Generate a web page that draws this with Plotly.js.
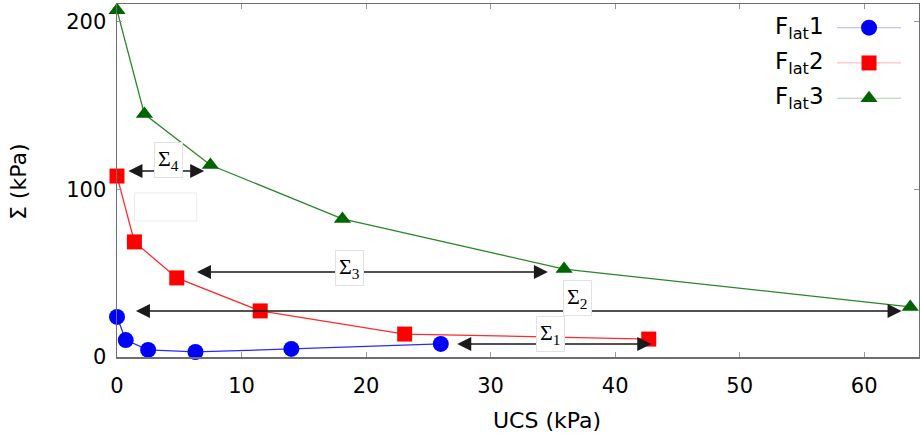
<!DOCTYPE html>
<html>
<head>
<meta charset="utf-8">
<script src="https://cdn.plot.ly/plotly-3.0.1.min.js"></script>
<style>html,body{margin:0;padding:0;background:#fff;}#chart{width:920px;height:436px;}</style>
</head>
<body>
<div id="chart"></div>
<script>
// Data
var seriesNames = ['F<sub>lat</sub>1', 'F<sub>lat</sub>2', 'F<sub>lat</sub>3'];
var ucs1 = [0, 0.7, 2.5, 6.3, 14.0, 26.0];
var sigma1 = [23.9, 10.1, 4.2, 3.0, 4.8, 7.8];
var ucs2 = [0, 1.4, 4.8, 11.5, 23.1, 42.7];
var sigma2 = [108, 68.7, 47.2, 27.5, 13.7, 10.7];
var ucs3 = [0, 2.2, 7.5, 18.1, 35.9, 63.7];
var sigma3 = [207, 145, 114.6, 82.4, 52.5, 29.9];
var xTicks = [0, 10, 20, 30, 40, 50, 60];
var yTicks = [0, 100, 200];
var xTitle = 'UCS (kPa)';
var yTitle = 'Σ (kPa)';

// Double-headed interval arrows and their labels
var gapLabels = ['Σ<sub>1</sub>', 'Σ<sub>2</sub>', 'Σ<sub>3</sub>', 'Σ<sub>4</sub>'];
var gapStart = [27.2, 1.4, 6.3, 0.8];
var gapEnd = [42.9, 63.0, 34.6, 7.0];
var gapLevel = [7.8, 27.5, 50.7, 111];
var labelX = [34.8, 37.0, 18.7, 4.1];
var labelY = [13.7, 35.0, 53.0, 117.6];

var colors = ['#0000ff', '#ff0000', '#006400'];
var lineColors = ['#2a2aff', '#ff2a2a', '#2a862a'];
var legendLineColors = ['rgba(80,80,255,0.35)', 'rgba(255,80,80,0.35)', 'rgba(30,110,30,0.35)'];
var symbols = ['circle', 'square', 'triangle-up'];
var sizes = [16, 15, 15];
var xs = [ucs1, ucs2, ucs3];
var ys = [sigma1, sigma2, sigma3];

var traces = [];
for (var i = 0; i < 3; i++) {
  traces.push({
    x: xs[i], y: ys[i], type: 'scatter', mode: 'lines+markers',
    name: seriesNames[i], showlegend: false, cliponaxis: false,
    line: {color: lineColors[i], width: 1.3},
    marker: {color: colors[i], symbol: symbols[i], size: sizes[i]}
  });
}
// legend samples on a hidden helper axis
var legendRows = [2.5, 1.5, 0.5];
for (var i = 0; i < 3; i++) {
  traces.push({
    x: [0, 1], y: [legendRows[i], legendRows[i]], xaxis: 'x2', yaxis: 'y2',
    type: 'scatter', mode: 'lines', showlegend: false, hoverinfo: 'skip',
    line: {color: legendLineColors[i], width: 1.2}
  });
  traces.push({
    x: [0.5], y: [legendRows[i]], xaxis: 'x2', yaxis: 'y2',
    type: 'scatter', mode: 'markers', showlegend: false, hoverinfo: 'skip', cliponaxis: false,
    marker: {color: colors[i], symbol: symbols[i], size: sizes[i]}
  });
}

var annotations = [];
for (var k = 0; k < gapStart.length; k++) {
  annotations.push({
    x: gapEnd[k], y: gapLevel[k], ax: gapStart[k], ay: gapLevel[k],
    xref: 'x', yref: 'y', axref: 'x', ayref: 'y',
    text: '', showarrow: true, arrowside: 'end+start',
    arrowhead: 2, arrowsize: 2.0, arrowwidth: 1.4, arrowcolor: '#1a1a1a'
  });
}
for (var k = 0; k < gapLabels.length; k++) {
  annotations.push({
    x: labelX[k], y: labelY[k], xref: 'x', yref: 'y', showarrow: false,
    text: gapLabels[k], bgcolor: '#ffffff', bordercolor: '#e2e2e2', borderwidth: 1, borderpad: 3,
    font: {family: 'Liberation Serif, DejaVu Serif, serif', size: 22, color: '#000'}
  });
}
for (var i = 0; i < 3; i++) {
  annotations.push({
    x: 0.884, xref: 'paper', xanchor: 'right', y: legendRows[i], yref: 'y2', yanchor: 'middle',
    showarrow: false, text: seriesNames[i],
    font: {family: 'DejaVu Sans, sans-serif', size: 23, color: '#000'}
  });
}
// axis titles
annotations.push({
  x: 0.536, y: -0.181, xref: 'paper', yref: 'paper', xanchor: 'center', yanchor: 'middle',
  showarrow: false, text: xTitle,
  font: {family: 'DejaVu Sans, sans-serif', size: 22, color: '#000'}
});
annotations.push({
  x: -0.122, y: 0.496, xref: 'paper', yref: 'paper', xanchor: 'center', yanchor: 'middle',
  showarrow: false, text: yTitle, textangle: -90,
  font: {family: 'DejaVu Sans, sans-serif', size: 22, color: '#000'}
});

var axisCommon = {
  showline: true, linecolor: '#6e6e6e', linewidth: 1.5, mirror: 'ticks',
  ticks: 'inside', ticklen: 5, tickcolor: '#9a9a9a', tickwidth: 1,
  showgrid: false, zeroline: false,
  tickfont: {family: 'DejaVu Sans, sans-serif', size: 21, color: '#000'}
};

var layout = {
  width: 920, height: 436,
  margin: {l: 117, r: 1, t: 4, b: 79},
  paper_bgcolor: '#ffffff', plot_bgcolor: '#ffffff',
  showlegend: false,
  xaxis: Object.assign({}, axisCommon, {
    range: [0, 64.4], tickvals: xTicks, ticktext: xTicks.map(String), ticklabelstandoff: 9
  }),
  yaxis: Object.assign({}, axisCommon, {
    range: [0, 210.7], tickvals: yTicks, ticktext: yTicks.map(String), ticklabelstandoff: 5
  }),
  xaxis2: {domain: [0.8978, 0.9776], range: [0, 1], visible: false, anchor: 'y2', fixedrange: true},
  yaxis2: {domain: [0.683, 0.983], range: [0, 3], visible: false, anchor: 'x2', fixedrange: true},
  shapes: [{
    type: 'rect', xref: 'x', yref: 'y', x0: 1.4, x1: 6.4, y0: 81.2, y1: 97.9,
    line: {color: '#ececec', width: 1}, fillcolor: 'rgba(255,255,255,0)'
  }],
  annotations: annotations
};

Plotly.newPlot('chart', traces, layout, {staticPlot: true, displayModeBar: false});
</script>
</body>
</html>
